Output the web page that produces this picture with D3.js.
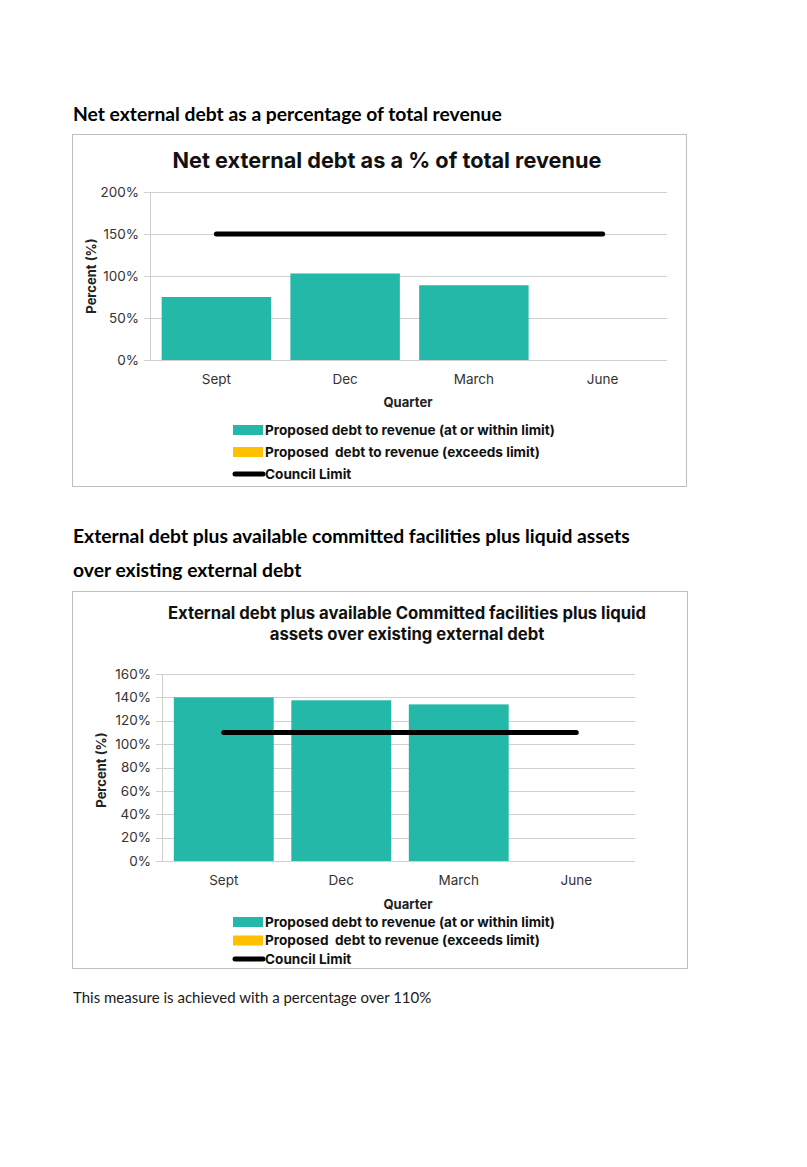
<!DOCTYPE html>
<html>
<head>
<meta charset="utf-8">
<script src="https://cdn.jsdelivr.net/npm/d3@7"></script>
<style>
  body { margin: 0; background: #fff; }
  .doc { font-family: Lato, "Open Sans", sans-serif; fill: #000; }
  .chart text { font-family: Inter, "Liberation Sans", sans-serif; white-space: pre; }
</style>
</head>
<body>
<script>
const quarters = ['Sept', 'Dec', 'March', 'June'];

// chart 1: net external debt / total revenue
const debtToRevenue = [75, 103, 89, null];
const debtLimit = 150;
const debtTicks = [0, 50, 100, 150, 200];

// chart 2: external debt + facilities + liquid assets over existing debt
const liquidityRatio = [140, 137.5, 134, null];
const liquidityLimit = 110;
const liquidityTicks = [0, 20, 40, 60, 80, 100, 120, 140, 160];

const legendLabels = [
  'Proposed debt to revenue (at or within limit)',
  'Proposed  debt to revenue (exceeds limit)',
  'Council Limit'
];

const teal = '#23b8a8';
const amber = '#ffc000';

const W = 807, H = 1167;

const svg = d3.select('body').append('svg')
  .attr('width', W)
  .attr('height', H);

// headings in the document text
const doc = svg.append('g').attr('class', 'doc');
doc.append('text').attr('x', 73).attr('y', 121)
  .style('font-size', '19.3px').style('font-weight', 700)
  .text('Net external debt as a percentage of total revenue');
doc.append('text').attr('x', 73).attr('y', 543)
  .style('font-size', '19.3px').style('font-weight', 700)
  .text('External debt plus available committed facilities plus liquid assets');
doc.append('text').attr('x', 73).attr('y', 577)
  .style('font-size', '19.3px').style('font-weight', 700)
  .text('over existing external debt');
doc.append('text').attr('x', 73).attr('y', 1003)
  .style('font-size', '15px').style('fill', '#1a1a1a')
  .text('This measure is achieved with a percentage over 110%');

function drawChart(o) {
  const g = svg.append('g').attr('class', 'chart');

  g.append('rect')
    .attr('x', o.box[0] + 0.5).attr('y', o.box[1] + 0.5)
    .attr('width', o.box[2] - o.box[0]).attr('height', o.box[3] - o.box[1])
    .attr('fill', '#fff').attr('stroke', '#bfbfbf');

  const x = d3.scaleBand()
    .domain(quarters)
    .range([o.plot.left, o.plot.right])
    .paddingInner(o.pad).paddingOuter(o.pad / 2);

  const y = d3.scaleLinear()
    .domain([0, d3.max(o.ticks)])
    .range([o.plot.bottom, o.plot.top]);

  // gridlines
  g.append('g').selectAll('line')
    .data(o.ticks)
    .join('line')
    .attr('x1', o.axisX - 6).attr('x2', o.plot.right)
    .attr('y1', d => Math.round(y(d)) + 0.5).attr('y2', d => Math.round(y(d)) + 0.5)
    .attr('stroke', '#d0d0d0').attr('stroke-width', 1);

  g.append('line')
    .attr('x1', o.axisX + 0.5).attr('x2', o.axisX + 0.5)
    .attr('y1', o.plot.top).attr('y2', o.plot.bottom)
    .attr('stroke', '#d0d0d0');

  g.append('g').selectAll('text')
    .data(o.ticks)
    .join('text')
    .attr('x', o.axisX - 11)
    .attr('y', d => y(d))
    .attr('dy', '0.35em')
    .attr('text-anchor', 'end')
    .style('font-size', '13.5px').style('fill', '#333')
    .text(d => d + '%');

  // bars
  g.append('g').selectAll('rect')
    .data(quarters.map((q, i) => ({ q, v: o.values[i] })).filter(d => d.v != null))
    .join('rect')
    .attr('x', d => x(d.q))
    .attr('width', x.bandwidth())
    .attr('y', d => y(d.v))
    .attr('height', d => y(0) - y(d.v))
    .attr('fill', teal);

  // council limit line (band centre to band centre)
  const cx = q => x(q) + x.bandwidth() / 2;
  g.append('line')
    .attr('x1', cx(quarters[0])).attr('x2', cx(quarters[quarters.length - 1]))
    .attr('y1', y(o.limit)).attr('y2', y(o.limit))
    .attr('stroke', '#000').attr('stroke-width', 5).attr('stroke-linecap', 'round');

  // x labels
  g.append('g').selectAll('text')
    .data(quarters)
    .join('text')
    .attr('x', d => cx(d))
    .attr('y', o.plot.bottom + o.xLabelGap)
    .attr('text-anchor', 'middle')
    .style('font-size', '13.5px').style('fill', '#333')
    .text(d => d);

  g.append('text')
    .attr('x', o.xTitle[0]).attr('y', o.xTitle[1])
    .attr('text-anchor', 'middle')
    .style('font-size', '13px').style('font-weight', 700).style('fill', '#222')
    .text('Quarter');

  g.append('text')
    .attr('transform', `translate(${o.yTitle[0]},${o.yTitle[1]}) rotate(-90)`)
    .attr('text-anchor', 'middle')
    .style('font-size', '13px').style('font-weight', 700).style('fill', '#222')
    .text('Percent (%)');

  // chart title
  g.append('g').selectAll('text')
    .data(o.title)
    .join('text')
    .attr('x', o.titleX)
    .attr('y', (d, i) => o.titleY + i * o.titleLead)
    .attr('text-anchor', 'middle')
    .style('font-size', o.titleSize).style('font-weight', 700).style('fill', '#111')
    .text(d => d);

  // legend
  const leg = g.append('g').selectAll('g')
    .data(legendLabels)
    .join('g')
    .attr('transform', (d, i) => `translate(${o.legend[0]},${o.legend[1] + i * o.legendStep})`);

  leg.each(function (d, i) {
    const s = d3.select(this);
    if (i < 2) {
      s.append('rect').attr('x', 0).attr('y', -5).attr('width', 30).attr('height', 10)
        .attr('fill', i === 0 ? teal : amber);
    } else {
      s.append('line').attr('x1', 2).attr('x2', 30).attr('y1', 0).attr('y2', 0)
        .attr('stroke', '#000').attr('stroke-width', 5).attr('stroke-linecap', 'round');
    }
  });
  leg.append('text')
    .attr('x', 32).attr('dy', '0.36em')
    .attr('xml:space', 'preserve')
    .style('font-size', '13.6px').style('font-weight', 700).style('fill', '#111')
    .text(d => d);
}

drawChart({
  box: [72, 134, 686, 486],
  plot: { left: 152, right: 667, top: 192, bottom: 360 },
  axisX: 150,
  pad: 0.15,
  ticks: debtTicks,
  values: debtToRevenue,
  limit: debtLimit,
  xLabelGap: 24,
  xTitle: [408, 407],
  yTitle: [96, 276],
  title: ['Net external debt as a % of total revenue'],
  titleX: 387, titleY: 168, titleLead: 0, titleSize: '21.7px',
  legend: [233, 430], legendStep: 22
});

drawChart({
  box: [72, 591, 687, 968],
  plot: { left: 165, right: 635, top: 674, bottom: 861 },
  axisX: 162,
  pad: 0.15,
  ticks: liquidityTicks,
  values: liquidityRatio,
  limit: liquidityLimit,
  xLabelGap: 24,
  xTitle: [408, 909],
  yTitle: [106, 770],
  title: ['External debt plus available Committed facilities plus liquid',
          'assets over existing external debt'],
  titleX: 407, titleY: 619, titleLead: 21, titleSize: '16.7px',
  legend: [233, 922], legendStep: 18.5
});
</script>
</body>
</html>
